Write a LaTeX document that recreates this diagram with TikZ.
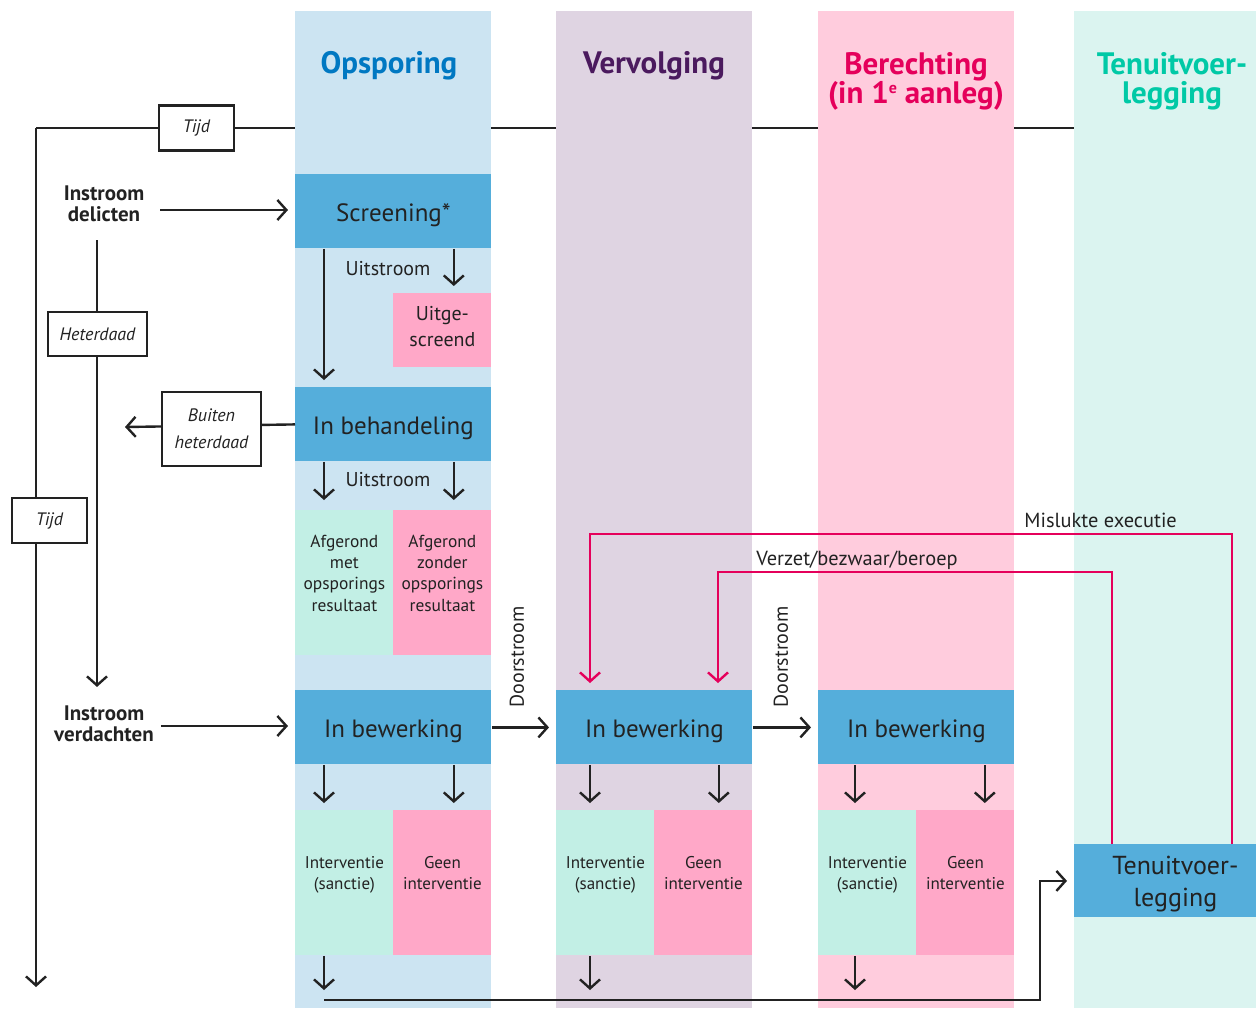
\documentclass[tikz,border=0pt]{standalone}
\usepackage{fontspec}
\setmainfont{PT Sans}
\usetikzlibrary{arrows.meta}
\usetikzlibrary{positioning}

\definecolor{ink}{HTML}{222222}
\definecolor{colblue}{HTML}{CCE4F2}
\definecolor{colpurple}{HTML}{DFD4E2}
\definecolor{colpink}{HTML}{FFCCDD}
\definecolor{colmint}{HTML}{DBF4F0}
\definecolor{stageblue}{HTML}{55AEDB}
\definecolor{outgreen}{HTML}{C2EFE5}
\definecolor{outpink}{HTML}{FFA8C8}
\definecolor{tblue}{HTML}{0078C2}
\definecolor{tpurple}{HTML}{4B1A5E}
\definecolor{tpink}{HTML}{E5005B}
\definecolor{tteal}{HTML}{00C9A6}
\definecolor{redo}{HTML}{E5005B}

\begin{document}
\begin{tikzpicture}[x=0.5pt,y=-0.5pt,
  title/.style={font=\fontsize{15.5}{14.5}\selectfont\bfseries, align=center, inner sep=0pt},
  stage/.style={rectangle, fill=stageblue, minimum width=98pt, minimum height=37pt, inner sep=0pt,
    font=\fontsize{12.5}{16}\selectfont, text=ink, align=center, text height=13pt, text depth=3pt},
  result/.style={rectangle, fill=#1, minimum width=49pt, minimum height=72.5pt, inner sep=0pt,
    align=center, text=ink, font=\fontsize{8.7}{10.7}\selectfont, text depth=10pt},
  tag/.style={draw=ink, line width=1.2pt, fill=white, inner sep=0pt, text=ink,
    font=\fontsize{9}{13.5}\selectfont\itshape, align=center},
  lead/.style={font=\fontsize{10.5}{10.5}\selectfont\bfseries, align=center, text=ink},
  note/.style={font=\fontsize{10.2}{11}\selectfont, text=ink, inner sep=0pt},
  flow/.style={draw=ink, line width=1.2pt, -{Straight Barb[length=4.5pt,width=10pt]}, shorten >=3.5pt},
  back/.style={flow, draw=redo, line width=1.2pt}]

\useasboundingbox (0,0) rectangle (1256,1008);

% time axis
\coordinate (t0) at (36,128);
\coordinate (t1) at (1074,128);
\coordinate (tend) at (36,994);
\draw[ink, line width=1.2pt] (t1) -- (t0);
\draw[flow] (t0) -- (tend);

% phase columns
\fill[colblue] (295,11) rectangle (491,1008);
\fill[colpurple] (556,11) rectangle (752,1008);
\fill[colpink] (818,11) rectangle (1014,1008);
\fill[colmint] (1074,11) rectangle (1256,1008);

\node[title, text=tblue] (h_ops) at (389,66) {Opsporing};
\node[title, text=tpurple] (h_ver) at (654,66) {Vervolging};
\node[title, text=tpink] (h_ber) at (916,81) {Berechting\\(in 1\raisebox{5pt}{\fontsize{8}{8}\selectfont e} aanleg)};
\node[title, text=tteal] (h_ten) at (1172,81) {Tenuitvoer-\\legging};

% opsporing
\node[stage, anchor=north west] (scr) at (295,174) {Screening*};
\node[result=outpink, anchor=north west, minimum height=37pt, text depth=4pt,
  font=\fontsize{10}{13}\selectfont] (ugs) at (393,293) {Uitge-\\screend};
\node[stage, anchor=north west] (beh) at (295,387) {In behandeling};
\node[result=outgreen, anchor=north west] (afg_met) at (295,510) {Afgerond\\met\\opsporings\\resultaat};
\node[result=outpink, anchor=north west] (afg_zon) at (393,510) {Afgerond\\zonder\\opsporings\\resultaat};

\node[note, font=\fontsize{10}{12}\selectfont] (uit_scr) at (388,269) {Uitstroom};
\node[note, font=\fontsize{10}{12}\selectfont] (uit_beh) at (388,480) {Uitstroom};

\draw[flow] ([xshift=14.5pt]scr.south west) -- ([xshift=14.5pt]beh.north west);
\draw[flow] ([xshift=-19pt]scr.south east) -- ([xshift=-19pt]ugs.north east);
\draw[flow, shorten >=5pt] ([xshift=14.5pt]beh.south west) -- ([xshift=14.5pt]afg_met.north west);
\draw[flow, shorten >=5pt] ([xshift=-19pt]beh.south east) -- ([xshift=-19pt]afg_zon.north east);

% instroom
\node[lead] (in_del) at (104,204) {Instroom\\delicten};
\node[lead] (in_ver) at (104,724) {Instroom\\verdachten};
\draw[flow, shorten <=4.5pt] ([yshift=-3pt]in_del.east) -- ([yshift=-3pt]in_del.east -| scr.west);
\draw[flow] ([yshift=-1pt]in_ver.east) -- ([yshift=-1pt]in_ver.east -| beh.west);

\coordinate (het0) at (97,240);
\coordinate (out_bh) at (125,427);
\draw[flow, shorten >=6pt] (het0) -- (het0 |- in_ver.north);
\draw[flow, shorten >=0pt] (beh.west) -- (out_bh);

\node[tag, minimum width=37.5pt, minimum height=22.5pt] (tijd_h) at (196.5,128) {Tijd};
\node[tag, minimum width=37.5pt, minimum height=22.5pt] (tijd_v) at (49.5,520.5) {Tijd};
\node[tag, minimum width=49.5pt, minimum height=22pt] (het) at (97.5,334) {Heterdaad};
\node[tag, minimum width=49.5pt, minimum height=37pt] (bh) at (211.5,429) {Buiten\\heterdaad};

% in bewerking
\node[stage, anchor=north west] (bew_o) at (295,690) {In bewerking};
\node[stage, anchor=north west] (bew_v) at (556,690) {In bewerking};
\node[stage, anchor=north west] (bew_b) at (818,690) {In bewerking};

\draw[flow] (bew_o.east) -- (bew_v.west);
\draw[flow] (bew_v.east) -- (bew_b.west);
\node[note, rotate=90, font=\fontsize{10}{12}\selectfont] (door_1) at (517,657) {Doorstroom};
\node[note, rotate=90, font=\fontsize{10}{12}\selectfont] (door_2) at (781,657) {Doorstroom};

\node[result=outgreen, anchor=north west, font=\fontsize{8.5}{10.7}\selectfont] (int_o) at (295,810) {Interventie\\(sanctie)};
\node[result=outpink, anchor=north west, font=\fontsize{8.5}{10.7}\selectfont] (geen_o) at (393,810) {Geen\\interventie};
\node[result=outgreen, anchor=north west, font=\fontsize{8.5}{10.7}\selectfont] (int_v) at (556,810) {Interventie\\(sanctie)};
\node[result=outpink, anchor=north west, font=\fontsize{8.5}{10.7}\selectfont] (geen_v) at (654,810) {Geen\\interventie};
\node[result=outgreen, anchor=north west, font=\fontsize{8.5}{10.7}\selectfont] (int_b) at (818,810) {Interventie\\(sanctie)};
\node[result=outpink, anchor=north west, font=\fontsize{8.5}{10.7}\selectfont] (geen_b) at (916,810) {Geen\\interventie};

\draw[flow] ([xshift=14.5pt]bew_o.south west) -- ([xshift=14.5pt]int_o.north west);
\draw[flow] ([xshift=-19pt]bew_o.south east) -- ([xshift=-19pt]geen_o.north east);
\draw[flow] ([xshift=17pt]bew_v.south west) -- ([xshift=17pt]int_v.north west);
\draw[flow] ([xshift=-17pt]bew_v.south east) -- ([xshift=-17pt]geen_v.north east);
\draw[flow] ([xshift=18.5pt]bew_b.south west) -- ([xshift=18.5pt]int_b.north west);
\draw[flow] ([xshift=-15pt]bew_b.south east) -- ([xshift=-15pt]geen_b.north east);

% tenuitvoerlegging
\node[rectangle, fill=stageblue, inner sep=0pt, text=ink, align=center, anchor=north west,
  minimum width=101pt, minimum height=36.5pt, text depth=0pt,
  font=\fontsize{13}{16}\selectfont] (tul) at (1074,844) {Tenuitvoer-\\legging};

\coordinate (bot) at (324,1000);
\draw[flow, shorten >=5pt] ([xshift=14.5pt]int_o.south west) -- ([xshift=14.5pt]int_o.south west |- bot);
\draw[flow, shorten >=5pt] ([xshift=17pt]int_v.south west) -- ([xshift=17pt]int_v.south west |- bot);
\draw[flow, shorten >=5pt] ([xshift=18.5pt]int_b.south west) -- ([xshift=18.5pt]int_b.south west |- bot);
\draw[flow] (bot) -| ([xshift=-17pt]tul.west) -- (tul.west);

% terugkoppeling
\coordinate (verzet) at (718,572);
\coordinate (mislukt) at (590,534);
\draw[back] ([xshift=19pt]tul.north west) |- (verzet) -- (verzet |- bew_v.north);
\draw[back] ([xshift=79pt]tul.north west) |- (mislukt) -- (mislukt |- bew_v.north);
\node[note, anchor=base west] (lbl_verzet) at (756,565) {Verzet/bezwaar/beroep};
\node[note, anchor=base west] (lbl_mislukt) at (1024,527) {Mislukte executie};

\end{tikzpicture}
\end{document}
